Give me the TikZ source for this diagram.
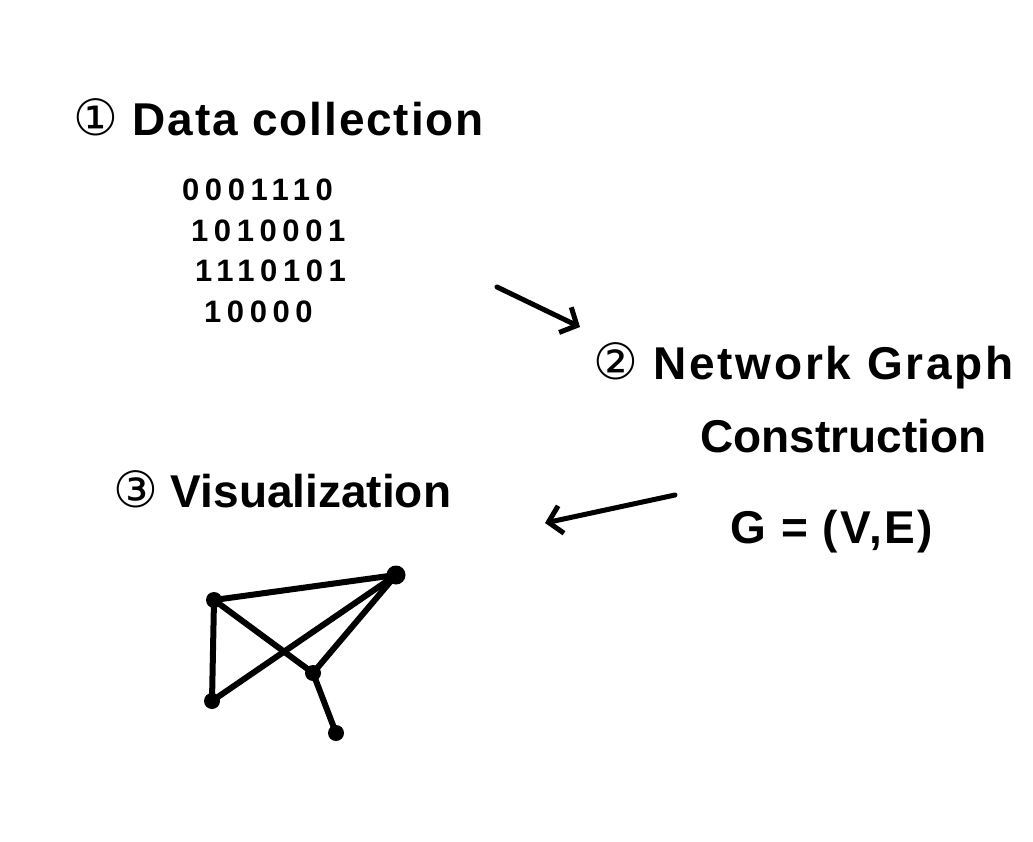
\documentclass[tikz,border=0pt]{standalone}
\usepackage{fontspec}
\setmainfont{Liberation Sans}
\newfontfamily\symfont{DejaVu Sans}
\newfontfamily\titlefont{Liberation Sans Bold}
\newfontfamily\digitfont[LetterSpace=18]{Liberation Sans Bold}
\usetikzlibrary{arrows.meta}
\newcommand{\circnum}[1]{{\symfont\fontsize{50}{50}\selectfont #1}}
\begin{document}
\begin{tikzpicture}[x=1pt,y=-1pt,
  title/.style={anchor=base west,inner sep=0pt,font=\titlefont\fontsize{46}{50}\selectfont},
  bits/.style={anchor=base west,inner sep=0pt,font=\digitfont\fontsize{31}{34}\selectfont},
  flow/.style={line width=5pt,line cap=round,-{Straight Barb[length=13pt,width=28pt,line width=5pt]}},
  vtx/.style={circle,fill=black,inner sep=0pt,minimum size=16pt},
  edge/.style={line width=6pt,line cap=round}]
\useasboundingbox[fill=white] (0,0) rectangle (1033,842);
% titles
\node[title] (t1) at (73,136) {\addfontfeature{LetterSpace=4}\circnum{①} Data collection};
\node[title] (t2) at (593,379) {\addfontfeature{LetterSpace=6}\circnum{②} Network Graph};
\node[title] (t2b) at (700,452) {Construction};
\node[title] (g) at (730,543) {\addfontfeature{LetterSpace=5}G = (V,E)};
\node[title] (t3) at (113,507) {\circnum{③} Visualization};
% bit rows
\node[bits] (r1) at (182,201) {0001110};
\node[bits] (r2) at (191,242) {1010001};
\node[bits] (r3) at (195,282) {1110101};
\node[bits] (r4) at (204,322) {10000};
% flow arrows
\coordinate (a1s) at (497,287);
\coordinate (a1e) at (580,327);
\coordinate (a2s) at (675,495);
\coordinate (a2e) at (545,523);
\draw[flow] (a1s) -- (a1e);
\draw[flow] (a2s) -- (a2e);
% graph
\node[vtx] (A) at (214,600) {};
\node[vtx,minimum size=19pt] (B) at (396,575) {};
\node[vtx] (C) at (313,673) {};
\node[vtx] (D) at (212,701) {};
\node[vtx] (E) at (336,733) {};
\draw[edge] (A.center) -- (B.center);
\draw[edge] (A.center) -- (D.center);
\draw[edge] (A.center) -- (C.center);
\draw[edge] (D.center) -- (B.center);
\draw[edge] (C.center) -- (B.center);
\draw[edge] (C.center) -- (E.center);
\end{tikzpicture}
\end{document}
